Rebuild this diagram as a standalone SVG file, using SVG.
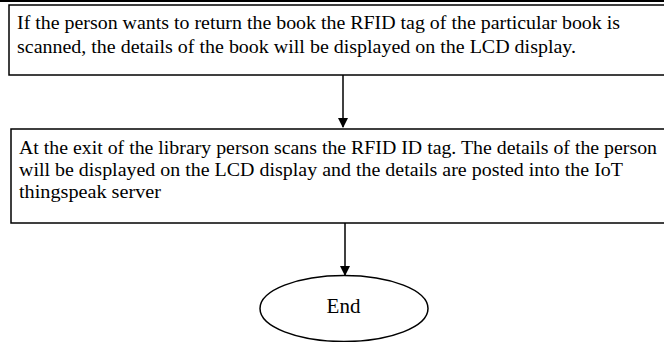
<svg xmlns="http://www.w3.org/2000/svg" width="664" height="342" viewBox="0 0 664 342">
<defs>
<marker id="ah" markerWidth="10" markerHeight="10" refX="9" refY="5" orient="auto" markerUnits="userSpaceOnUse">
<path d="M0,0 L10,5 L0,10 Z" fill="#000"/>
</marker>
<style>
.box{fill:#fff;stroke:#000;stroke-width:1.5}
.t{font-family:"Liberation Serif","Times New Roman",serif;font-size:18.5px;fill:#000}
.c{stroke:#000;stroke-width:1.5;fill:none}
</style>
</defs>
<rect width="664" height="342" fill="#fff"/>
<line x1="0" y1="1" x2="664" y2="1" stroke="#000" stroke-width="2"/>
<g id="connectors">
<line class="c" x1="343" y1="75" x2="343" y2="127" marker-end="url(#ah)"/>
<line class="c" x1="345" y1="223" x2="345" y2="275" marker-end="url(#ah)"/>
</g>
<g id="node1">
<rect class="box" x="9" y="5" width="660" height="70"/>
<text class="t" x="17" y="29" textLength="603" lengthAdjust="spacingAndGlyphs">If the person wants to return the book the RFID tag of the particular book is</text>
<text class="t" x="17" y="52.5" textLength="559" lengthAdjust="spacingAndGlyphs">scanned, the details of the book will be displayed on the LCD display.</text>
</g>
<g id="node2">
<rect class="box" x="11" y="129" width="660" height="94"/>
<text class="t" x="19" y="154" textLength="638" lengthAdjust="spacingAndGlyphs">At the exit of the library person scans the RFID ID tag. The details of the person</text>
<text class="t" x="19" y="176" textLength="604" lengthAdjust="spacingAndGlyphs">will be displayed on the LCD display and the details are posted into the IoT</text>
<text class="t" x="19" y="198" textLength="142" lengthAdjust="spacingAndGlyphs">thingspeak server</text>
</g>
<g id="end">
<ellipse class="box" cx="344" cy="308.5" rx="84" ry="33"/>
<text class="t" x="343.5" y="313" text-anchor="middle" style="font-size:21px">End</text>
</g>
</svg>
